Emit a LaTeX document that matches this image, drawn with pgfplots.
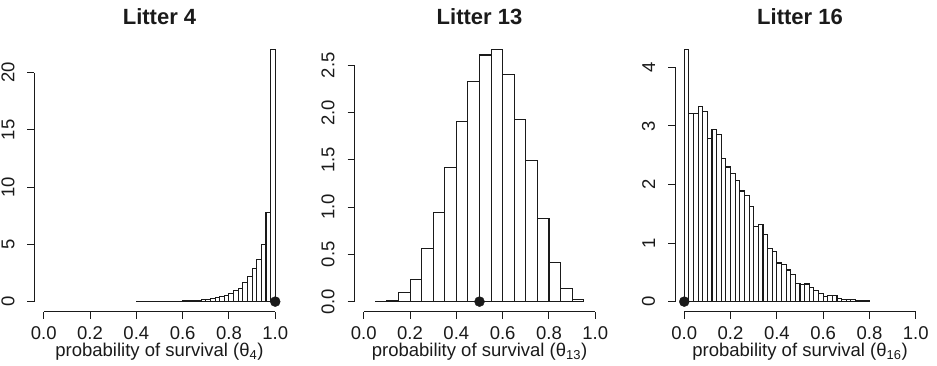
\documentclass[border=0pt]{standalone}
\usepackage{fontspec}
\setmainfont{Liberation Sans}
\usepackage{pgfplots}
\pgfplotsset{compat=1.18}
\definecolor{ink}{HTML}{1A1A1A}
\tikzset{rline/.style={draw=ink, line width=1pt}}
\pgfplotsset{
  rstyle/.style={
    scale only axis, width=250pt, height=272.5pt, anchor=south west,
    xmin=-0.04, xmax=1.04,
    axis x line*=bottom, axis y line*=left,
    axis line style={draw=none},
    tick align=outside, major tick length=7pt,
    tick style={draw=ink, line width=1pt},
    xtick={0,0.2,0.4,0.6,0.8,1.0},
    xticklabels={0.0,0.2,0.4,0.6,0.8,1.0},
    tick label style={font=\fontsize{18.5}{22}\selectfont, text=ink},
    xticklabel style={inner sep=0pt, anchor=north, yshift=-8pt},
    yticklabel style={rotate=90, anchor=south, inner sep=0pt, yshift=12.8pt},
    label style={font=\fontsize{18.5}{22}\selectfont, text=ink},
    xlabel style={at={(axis description cs:0.5,0)}, anchor=base, yshift=-45pt, inner sep=0pt},
    title style={at={(axis description cs:0.5,1)}, anchor=base, yshift=9pt, inner sep=0pt, font=\bfseries\fontsize{22}{26}\selectfont, text=ink},
    clip=false,
  },
  rbar/.style={ybar interval, fill=white, draw=ink, line width=1.1pt},
  rdot/.style={only marks, mark=*, mark size=5pt, mark options={fill=ink, draw=ink}},
}
\begin{document}
\begin{tikzpicture}
\path[use as bounding box] (0,0) rectangle (937pt,365pt);
% Panel 1
\begin{axis}[rstyle, at={(34.5pt,53.3pt)}, ymin=-0.8816, ymax=22.92,
  ytick={0,5,10,15,20}, yticklabels={0,5,10,15,20},
  title={Litter 4}, xlabel={probability of survival (θ\textsubscript{4})}]
\addplot[rbar] coordinates {
(0.40,0.005) (0.42,0.005) (0.44,0.005) (0.46,0.01) (0.48,0.01)
(0.50,0.01) (0.52,0.02) (0.54,0.02) (0.56,0.03) (0.58,0.04)
(0.60,0.05) (0.62,0.06) (0.64,0.09) (0.66,0.12) (0.68,0.15)
(0.70,0.20) (0.72,0.26) (0.74,0.35) (0.76,0.44) (0.78,0.50)
(0.80,0.67) (0.82,0.96) (0.84,1.17) (0.86,1.66) (0.88,2.19)
(0.90,2.92) (0.92,3.65) (0.94,4.96) (0.96,7.79) (0.98,22.04)
(1.00,0)};
\addplot[rdot] coordinates {(1.0,0)};
\draw[rline] (axis cs:0,-0.8816) -- (axis cs:1,-0.8816);
\draw[rline] (axis cs:-0.04,0) -- (axis cs:-0.04,20);
\end{axis}
% Panel 2
\begin{axis}[rstyle, at={(354.5pt,53.3pt)}, ymin=-0.1068, ymax=2.7768,
  ytick={0,0.5,1,1.5,2,2.5}, yticklabels={0.0,0.5,1.0,1.5,2.0,2.5},
  title={Litter 13}, xlabel={probability of survival (θ\textsubscript{13})}]
\addplot[rbar] coordinates {
(0.05,0.005) (0.10,0.015) (0.15,0.095) (0.20,0.23) (0.25,0.56)
(0.30,0.94) (0.35,1.42) (0.40,1.91) (0.45,2.33) (0.50,2.61)
(0.55,2.67) (0.60,2.40) (0.65,1.93) (0.70,1.49) (0.75,0.88)
(0.80,0.41) (0.85,0.14) (0.90,0.02) (0.95,0)};
\addplot[rdot] coordinates {(0.5,0)};
\draw[rline] (axis cs:0,-0.1068) -- (axis cs:1,-0.1068);
\draw[rline] (axis cs:-0.04,0) -- (axis cs:-0.04,2.5);
\end{axis}
% Panel 3
\begin{axis}[rstyle, at={(675pt,53.3pt)}, ymin=-0.1724, ymax=4.4824,
  ytick={0,1,2,3,4}, yticklabels={0,1,2,3,4},
  title={Litter 16}, xlabel={probability of survival (θ\textsubscript{16})}]
\addplot[rbar] coordinates {
(0.00,4.31) (0.02,3.21) (0.04,3.22) (0.06,3.34) (0.08,3.25)
(0.10,2.78) (0.12,2.94) (0.14,2.86) (0.16,2.45) (0.18,2.30)
(0.20,2.19) (0.22,2.07) (0.24,1.89) (0.26,1.81) (0.28,1.62)
(0.30,1.28) (0.32,1.31) (0.34,1.15) (0.36,0.91) (0.38,0.86)
(0.40,0.66) (0.42,0.63) (0.44,0.54) (0.46,0.46) (0.48,0.31)
(0.50,0.29) (0.52,0.30) (0.54,0.24) (0.56,0.19) (0.58,0.14)
(0.60,0.09) (0.62,0.10) (0.64,0.10) (0.66,0.06) (0.68,0.04)
(0.70,0.04) (0.72,0.03) (0.74,0.02) (0.76,0.01) (0.78,0.01)
(0.80,0)};
\addplot[rdot] coordinates {(0.0,0)};
\draw[rline] (axis cs:0,-0.1724) -- (axis cs:1,-0.1724);
\draw[rline] (axis cs:-0.04,0) -- (axis cs:-0.04,4);
\end{axis}
\end{tikzpicture}
\end{document}
